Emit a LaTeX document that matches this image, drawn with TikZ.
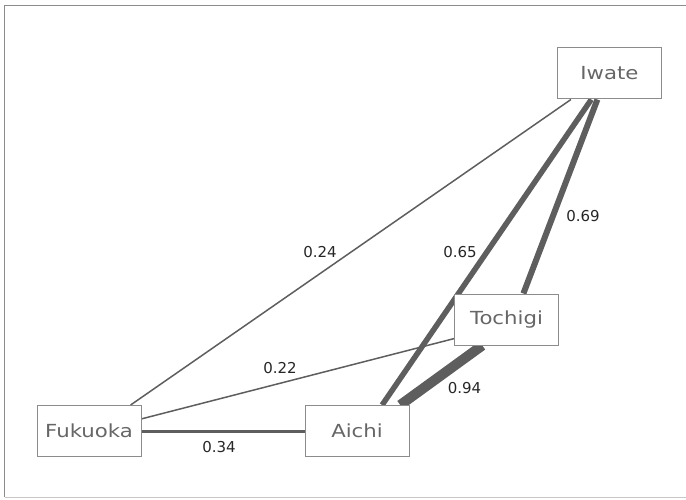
\documentclass[tikz,border=0pt]{standalone}
\usepackage{fontspec}
\setmainfont{DejaVu Sans}
\newfontfamily\widefont[FakeStretch=1.18]{DejaVu Sans}
\begin{document}
\begin{tikzpicture}[x=1pt,y=-1pt,
  place/.style={draw=black!45,line width=1pt,fill=white,rectangle,minimum width=104pt,minimum height=51pt,inner sep=0pt,text=black!60,font=\widefont\fontsize{18}{20}\selectfont},
  link/.style={draw=black!63},
  weight/.style={text=black!85,font=\fontsize{15}{17}\selectfont,inner sep=0pt}]
\useasboundingbox (0,0) rectangle (686,500);
\draw[black!45,line width=1pt] (686,6) -- (4.5,6) -- (4.5,497);
\draw[black!22,line width=1pt] (4.5,497.5) -- (686,497.5);
\node[place] (iwate) at (609.5,73.5) {Iwate};
\node[place] (tochigi) at (506.5,319.5) {Tochigi};
\node[place] (fukuoka) at (89,431) {Fukuoka};
\node[place] (aichi) at (357,431) {Aichi};
\draw[link,line width=1.5pt] (fukuoka.32.4) -- (iwate.214);
\draw[link,line width=1.5pt] (fukuoka.13) -- (tochigi.200);
\draw[link,line width=3pt] (fukuoka.east) -- (aichi.west);
\draw[link,line width=5.5pt] (aichi.46) -- (iwate.235.5);
\draw[link,line width=6pt] (tochigi.57) -- (iwate.245.7);
\draw[link,line width=10pt] (aichi.31) -- (tochigi.227);
\node[place] at (iwate) {Iwate};
\node[place] at (tochigi) {Tochigi};
\node[place] at (fukuoka) {Fukuoka};
\node[place] at (aichi) {Aichi};
\node[weight] (w1) at (320,252) {0.24};
\node[weight] (w2) at (460,252) {0.65};
\node[weight] (w3) at (583,216) {0.69};
\node[weight] (w4) at (280,368) {0.22};
\node[weight] (w5) at (464.5,388) {0.94};
\node[weight] (w6) at (219,447) {0.34};
\end{tikzpicture}
\end{document}
